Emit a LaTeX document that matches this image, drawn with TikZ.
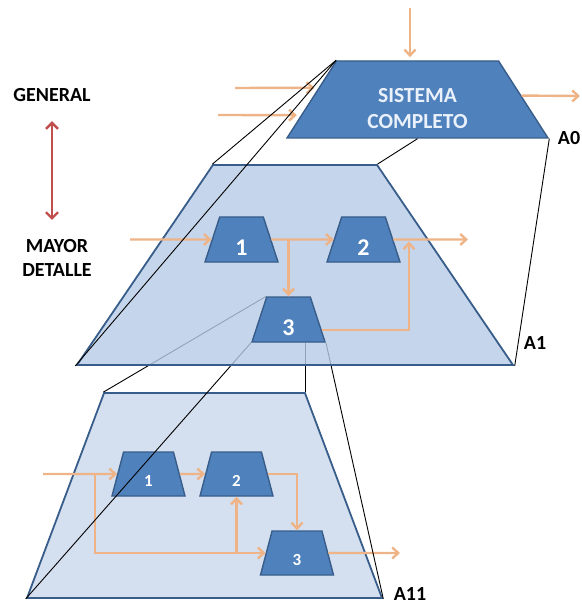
\documentclass[tikz,border=0pt]{standalone}
\usepackage{fontspec}
\setmainfont{Carlito}[BoldFont={Carlito Bold}]
\usetikzlibrary{arrows.meta, shapes.geometric, calc}
\definecolor{blockblue}{RGB}{79,129,189}
\definecolor{edgeblue}{RGB}{56,93,138}
\definecolor{planeblue}{RGB}{183,203,230}
\definecolor{planelight}{RGB}{212,223,239}
\definecolor{flow}{RGB}{238,180,135}
\definecolor{redarr}{RGB}{192,80,77}
\pgfdeclarelayer{front}
\pgfdeclarelayer{top}
\pgfsetlayers{main,front,top}

\begin{document}
\begin{tikzpicture}[x=1pt,y=-1pt,
  plane/.style={trapezium,trapezium stretches body=true,draw=edgeblue,line width=1.8pt,
                fill=planeblue,inner sep=1pt,text depth=0pt},
  block/.style={trapezium,trapezium stretches body=true,draw=edgeblue,line width=1.4pt,
                fill=blockblue,text=white,inner sep=1pt,font=\bfseries},
  bigblock/.style={block,minimum width=73pt,minimum height=45pt,trapezium angle=66,
                   font=\bfseries\fontsize{24}{24}\selectfont,text height=31pt,text depth=0pt},
  smallblock/.style={block,minimum width=73pt,minimum height=44pt,trapezium angle=66,
                     font=\bfseries\fontsize{17}{17}\selectfont,text height=24pt,text depth=0pt},
  flow/.style={draw=flow,line width=2.4pt,-{Straight Barb[length=6pt,width=11pt]}},
  proj/.style={draw=black,line width=0.9pt},
  lbl/.style={font=\bfseries\fontsize{20}{24}\selectfont,align=center}
]
\useasboundingbox (0,0) rectangle (581,609);

% detailed level A11
\node[plane,fill=planelight,minimum width=355pt,text height=203pt,trapezium angle=69.4] (a11) at (204.5,495.5) {};
\node[smallblock] (c1) at (148.5,474) {1};
\node[smallblock] (c2) at (236.5,474) {2};
\node[smallblock] (c3) at (297,553) {3};
\coordinate (in11) at (43,474);
\coordinate (split11) at (95,474);
\coordinate (out11) at (400,553);
\draw[flow] (in11) -- (c1);
\draw[flow] (split11) |- (c3);
\draw[flow] (c1) -- (c2);
\draw[flow] (c2.east) -| (c3.north);
\draw[flow] (c2.south |- c3.west) -- (c2.south);
\draw[flow] (c3) -- (out11);
\node[lbl] (lab11) at (410,594) {A11};

\begin{pgfonlayer}{front}
% level A1
\node[plane,fill opacity=0.8,minimum width=436pt,text height=198pt,trapezium angle=55.8] (a1) at (295,265) {};
\node[bigblock] (b1) at (241.5,239.5) {1};
\node[bigblock] (b2) at (363.5,239.5) {2};
\node[bigblock] (b3) at (288.5,319.5) {3};
\coordinate (in1) at (130,239.5);
\coordinate (merge1) at (409,239.5);
\coordinate (out1) at (468,239.5);
\draw[flow] (in1) -- (b1);
\draw[flow] (b1) -- (b2);
\draw[flow] (b3.north |- b1.east) -- (b3.north);
\draw[flow,shorten >=2pt] ($(b3.east)!0.45!(b3.bottom right corner)$) -| (merge1);
\draw[flow] (b2) -- (out1);
\node[lbl] (lab1) at (535,343) {A1};

% level A0
\node[block,minimum width=261pt,text height=75pt,text depth=0pt,trapezium angle=57.3] (a0) at (417.5,99.5) {};
\node[text={rgb,255:red,235;green,241;blue,250},font=\bfseries\fontsize{21.5}{26}\selectfont,align=center]
  (a0txt) at ([yshift=-9pt]a0.center) {SISTEMA\\COMPLETO};
\coordinate (top0) at (410,8);
\coordinate (in0a) at (235,88);
\coordinate (in0b) at (218,115);
\coordinate (out0) at (580,96);
\draw[flow,shorten >=3pt] (top0) -- (top0 |- a0.north);
\draw[flow,shorten >=4pt] (in0a) -- ($(a0.top left corner)!0.35!(a0.bottom left corner)$);
\draw[flow,shorten >=4pt] (in0b) -- ($(a0.top left corner)!0.70!(a0.bottom left corner)$);
\draw[flow] ($(a0.top right corner)!0.45!(a0.bottom right corner)$) -- (out0);
\node[lbl] (lab0) at (569,138) {A0};

% scale of detail
\node[lbl] (general) at (52,95) {GENERAL};
\node[lbl] (detalle) at (57,258) {MAYOR\\DETALLE};
\draw[draw=redarr,line width=2.4pt,{Straight Barb[length=6pt,width=12pt]}-{Straight Barb[length=6pt,width=12pt]},
      shorten <=16pt,shorten >=16pt] (general.south) -- (general.south |- detalle.north);
\end{pgfonlayer}

% projection of block 3 onto A11 (seen through A1)
\draw[proj] (b3.top left corner) -- (a11.top left corner);
\draw[proj] (b3.bottom left corner) -- (a11.bottom left corner);
\draw[proj] (a11.top right corner |- b3.south) -- (a11.top right corner);
\draw[proj] (b3.bottom right corner) -- (a11.bottom right corner);

\begin{pgfonlayer}{top}
% projection of A0 onto A1
\draw[proj] (a0.top left corner) -- (a1.top left corner);
\draw[proj] (a0.top left corner) -- (a1.bottom left corner);
\draw[proj] (a0.south) -- (a1.top right corner);
\draw[proj] (a0.bottom right corner) -- (a1.bottom right corner);
\end{pgfonlayer}
\end{tikzpicture}
\end{document}
